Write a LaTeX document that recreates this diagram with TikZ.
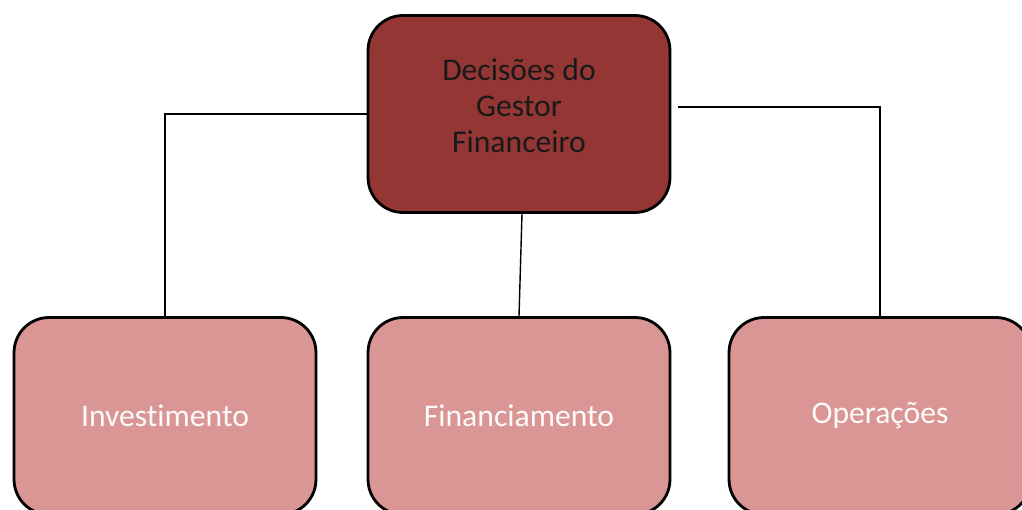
\documentclass[tikz,border=0pt]{standalone}
\usepackage{fontspec}
\setmainfont{Carlito}[Ligatures=NoCommon]
\usepackage{tikz}

\definecolor{darkred}{HTML}{943634}
\definecolor{lightred}{HTML}{D99694}

\begin{document}
\begin{tikzpicture}[x=0.02cm, y=-0.02cm,
		box/.style={draw=black, line width=1.6pt, rounded corners=0.7cm, minimum width=6.04cm, minimum height=3.94cm, align=center, font=\fontsize{18}{20.5}\selectfont},
		topbox/.style={box, fill=darkred, text=black!90},
		lowbox/.style={box, fill=lightred, text=white!95!lightred},
		link/.style={line width=0.8pt}]
			\useasboundingbox (0, 0) rectangle (1022, 510);
			\clip (0, 0) rectangle (1022, 510);

			\node[topbox] (gestor) at (519, 114) {Decisões do\\Gestor\\Financeiro\\[-0.4cm]};

			\node[lowbox] (invest) at (165, 416) {Investimento};
			\node[lowbox] (financ) at (519, 416) {Financiamento};
			\node[lowbox] (oper) at (880, 416) {Operações};

			\draw[link] (gestor.west) -| (invest.north);
			\draw[link] ([xshift=0.06cm]gestor.south) -- (financ.north);
			\draw[link] ([shift={(0.14cm, 0.14cm)}]gestor.east) -| (oper.north);
		\end{tikzpicture}
\end{document}
